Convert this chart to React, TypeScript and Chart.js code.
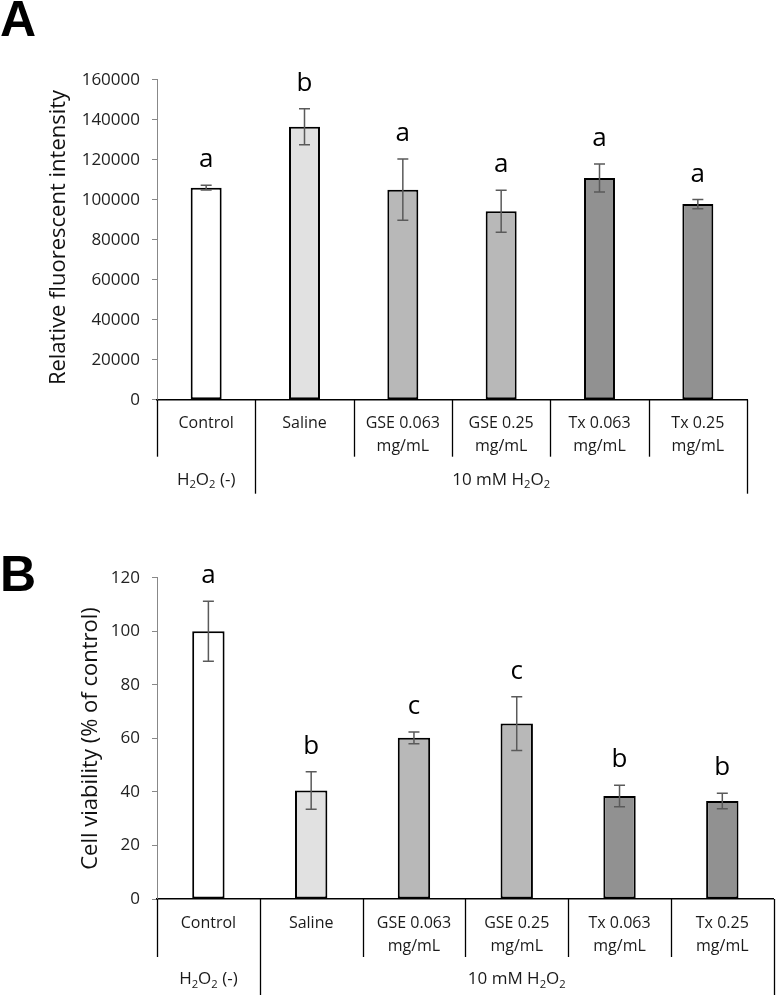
import React, { useEffect, useRef } from 'react';
import { Chart, registerables } from 'chart.js';

Chart.register(...registerables);

// ---------- data ----------
const categoryKeys = ['Control', 'Saline', 'GSE 0.063 mg/mL', 'GSE 0.25 mg/mL', 'Tx 0.063 mg/mL', 'Tx 0.25 mg/mL'];
const categoryLines = [['Control'], ['Saline'], ['GSE 0.063', 'mg/mL'], ['GSE 0.25', 'mg/mL'], ['Tx 0.063', 'mg/mL'], ['Tx 0.25', 'mg/mL']];
const groupLabels = ['H2O2 (-)', '10 mM H2O2'];
const groupSpans = [1, 5];
const barColors = ['#ffffff', '#e1e1e1', '#b8b8b8', '#b8b8b8', '#919191', '#919191'];

const fluorescenceMeans = [106000, 136500, 105000, 94200, 110800, 97800];
const fluorescenceErrors = [1200, 9000, 15300, 10500, 7000, 2300];
const fluorescenceLetters = ['a', 'b', 'a', 'a', 'a', 'a'];
const fluorescenceAxis = { min: 0, max: 160000, step: 20000 };
const fluorescenceTitle = 'Relative fluorescent intensity';

const viabilityMeans = [100, 40.5, 60.2, 65.5, 38.5, 36.6];
const viabilityErrors = [11.2, 7, 2.2, 10, 4, 2.9];
const viabilityLetters = ['a', 'b', 'c', 'c', 'b', 'b'];
const viabilityAxis = { min: 0, max: 120, step: 20 };
const viabilityTitle = 'Cell viability (% of control)';

const FONT = '"Open Sans", "Noto Sans", sans-serif';

type PanelCfg = {
  letter: string;
  letterX: number;
  letterBaseline: number;
  top: number;
  height: number;
  padTop: number;
  padRight: number;
  axisBottom: number;
  means: number[];
  errors: number[];
  letters: string[];
  axis: { min: number; max: number; step: number };
  title: string;
  titleX: number;
  titleY: number;
  lv1H: number;
  totalH: number;
};

function drawChem(ctx: CanvasRenderingContext2D, text: string, cx: number, cy: number, size: number) {
  // digits directly following a letter are drawn as subscripts
  const segs: { t: string; sub: boolean }[] = [];
  for (let i = 0; i < text.length; i++) {
    const ch = text[i];
    const sub = /[0-9]/.test(ch) && i > 0 && /[A-Za-z]/.test(text[i - 1]);
    const last = segs[segs.length - 1];
    if (last && last.sub === sub && !sub) last.t += ch;
    else segs.push({ t: ch, sub });
  }
  const subSize = size * 0.66;
  let total = 0;
  segs.forEach((s) => {
    ctx.font = `${s.sub ? subSize : size}px ${FONT}`;
    total += ctx.measureText(s.t).width;
  });
  let x = cx - total / 2;
  ctx.textAlign = 'left';
  ctx.textBaseline = 'middle';
  segs.forEach((s) => {
    ctx.font = `${s.sub ? subSize : size}px ${FONT}`;
    ctx.fillText(s.t, x, s.sub ? cy + 5.5 : cy);
    x += ctx.measureText(s.t).width;
  });
}

function makePlugin(cfg: PanelCfg) {
  return {
    id: 'panelDecor',
    afterDatasetsDraw(chart: any) {
      const ctx: CanvasRenderingContext2D = chart.ctx;
      const y = chart.scales.y;
      const meta = chart.getDatasetMeta(0);
      ctx.save();
      meta.data.forEach((bar: any, i: number) => {
        const hi = y.getPixelForValue(cfg.means[i] + cfg.errors[i]);
        const lo = y.getPixelForValue(cfg.means[i] - cfg.errors[i]);
        const x = bar.x;
        ctx.strokeStyle = '#5a5a5a';
        ctx.lineWidth = 1.5;
        ctx.beginPath();
        ctx.moveTo(x, hi);
        ctx.lineTo(x, lo);
        ctx.moveTo(x - 5.5, hi);
        ctx.lineTo(x + 5.5, hi);
        ctx.moveTo(x - 5.5, lo);
        ctx.lineTo(x + 5.5, lo);
        ctx.stroke();
        ctx.fillStyle = '#000';
        ctx.font = `26px ${FONT}`;
        ctx.textAlign = 'center';
        ctx.textBaseline = 'alphabetic';
        ctx.fillText(cfg.letters[i], x, hi - 18);
      });
      ctx.restore();
    },
    afterDraw(chart: any) {
      const ctx: CanvasRenderingContext2D = chart.ctx;
      const xs = chart.scales.x;
      const area = chart.chartArea;
      const axisY = area.bottom;
      const n = categoryKeys.length;
      const catW = xs.getPixelForValue(1) - xs.getPixelForValue(0);
      const edge = (i: number) => xs.getPixelForValue(0) - catW / 2 + i * catW;
      ctx.save();
      // table lines
      ctx.strokeStyle = '#000';
      ctx.lineWidth = 1.3;
      const groupEdges = new Set<number>();
      let acc = 0;
      groupSpans.forEach((s) => {
        acc += s;
        groupEdges.add(acc);
      });
      for (let i = 0; i <= n; i++) {
        const x = Math.round(edge(i)) + 0.5;
        const h = groupEdges.has(i) ? cfg.totalH : cfg.lv1H;
        ctx.beginPath();
        ctx.moveTo(x, axisY);
        ctx.lineTo(x, axisY + h);
        ctx.stroke();
      }
      // category labels
      ctx.fillStyle = '#1a1a1a';
      ctx.font = `16px ${FONT}`;
      ctx.textAlign = 'center';
      ctx.textBaseline = 'middle';
      categoryLines.forEach((lines, i) => {
        const cx = xs.getPixelForValue(i);
        lines.forEach((ln, j) => {
          ctx.fillText(ln, cx, axisY + 24 + j * 23);
        });
      });
      // group labels
      let start = 0;
      groupLabels.forEach((g, gi) => {
        const span = groupSpans[gi];
        const cx = (edge(start) + edge(start + span)) / 2;
        ctx.fillStyle = '#1a1a1a';
        drawChem(ctx, g, cx, axisY + 80, 17);
        start += span;
      });
      // y title
      ctx.save();
      ctx.translate(cfg.titleX, cfg.titleY);
      ctx.rotate(-Math.PI / 2);
      ctx.font = `22px ${FONT}`;
      ctx.fillStyle = '#111';
      ctx.textAlign = 'center';
      ctx.textBaseline = 'middle';
      ctx.fillText(cfg.title, 0, 0);
      ctx.restore();
      // panel letter
      ctx.font = `bold 50px "Liberation Sans", Arial, sans-serif`;
      ctx.fillStyle = '#000';
      ctx.textAlign = 'left';
      ctx.textBaseline = 'alphabetic';
      ctx.fillText(cfg.letter, cfg.letterX, cfg.letterBaseline);
      ctx.restore();
    },
  };
}

function Panel({ cfg }: { cfg: PanelCfg }) {
  const ref = useRef<HTMLCanvasElement | null>(null);
  useEffect(() => {
    if (!ref.current) return;
    const chart = new Chart(ref.current, {
      type: 'bar',
      data: {
        labels: categoryKeys,
        datasets: [
          {
            data: cfg.means,
            backgroundColor: barColors,
            borderColor: '#000',
            borderWidth: 2,
            borderSkipped: false,
            barPercentage: 0.315,
            categoryPercentage: 1,
          },
        ],
      },
      options: {
        responsive: false,
        animation: false,
        devicePixelRatio: 1,
        layout: { padding: { top: cfg.padTop, right: cfg.padRight, left: 0, bottom: 0 } },
        plugins: { legend: { display: false }, tooltip: { enabled: false } },
        scales: {
          x: {
            type: 'category',
            grid: { display: false },
            border: { display: true, color: '#000', width: 1.6 },
            ticks: { display: false },
            afterFit: (s: any) => {
              s.height = cfg.height - cfg.axisBottom;
            },
          },
          y: {
            min: cfg.axis.min,
            max: cfg.axis.max,
            ticks: {
              stepSize: cfg.axis.step,
              color: '#222',
              font: { family: FONT, size: 17 },
              padding: 12,
              callback: (v: any) => String(v),
            },
            grid: { drawOnChartArea: false, drawTicks: true, tickLength: 5, tickColor: '#888', tickWidth: 1 },
            border: { display: true, color: '#888', width: 1 },
            afterFit: (s: any) => {
              s.width = 157;
            },
          },
        },
      },
      plugins: [makePlugin(cfg)],
    } as any);
    return () => chart.destroy();
  }, [cfg]);
  return (
    <canvas
      ref={ref}
      width={777}
      height={cfg.height}
      style={{ position: 'absolute', left: 0, top: cfg.top, width: 777, height: cfg.height, display: 'block' }}
    />
  );
}

const panelA: PanelCfg = {
  letter: 'A',
  letterX: 0,
  letterBaseline: 35.5,
  top: 0,
  height: 500,
  padTop: 79.7,
  padRight: 30,
  axisBottom: 399.7,
  means: fluorescenceMeans,
  errors: fluorescenceErrors,
  letters: fluorescenceLetters,
  axis: fluorescenceAxis,
  title: fluorescenceTitle,
  titleX: 58.3,
  titleY: 237.5,
  lv1H: 57,
  totalH: 94,
};

const panelB: PanelCfg = {
  letter: 'B',
  letterX: 0,
  letterBaseline: 90.7,
  top: 500,
  height: 495,
  padTop: 77.7,
  padRight: 3.3,
  axisBottom: 399,
  means: viabilityMeans,
  errors: viabilityErrors,
  letters: viabilityLetters,
  axis: viabilityAxis,
  title: viabilityTitle,
  titleX: 91,
  titleY: 238.5,
  lv1H: 58,
  totalH: 96,
};

export default function App() {
  return (
    <div style={{ position: 'fixed', left: 0, top: 0, width: 777, height: 995, background: '#fff', overflow: 'hidden' }}>
      <Panel cfg={panelA} />
      <Panel cfg={panelB} />
    </div>
  );
}
